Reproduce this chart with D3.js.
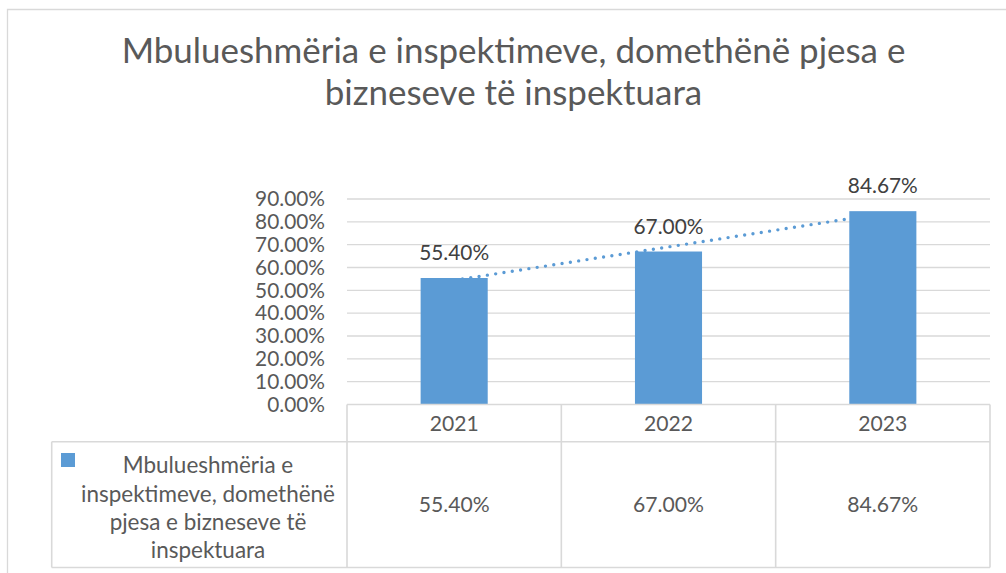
<!DOCTYPE html>
<html>
<head>
<meta charset="utf-8">
<script src="https://cdn.jsdelivr.net/npm/d3@7"></script>
<style>
  html, body { margin: 0; padding: 0; background: #fff; }
  svg { display: block; }
</style>
</head>
<body>
<svg id="chart" width="1006" height="573"></svg>
<script>
// ---- data ----
const titleLines = ["Mbulueshmëria e inspektimeve, domethënë pjesa e", "bizneseve të inspektuara"];
const categories = ["2021", "2022", "2023"];
const values = [0.554, 0.67, 0.8467];
const seriesName = "Mbulueshmëria e inspektimeve, domethënë pjesa e bizneseve të inspektuara";
const legendLines = ["Mbulueshmëria e", "inspektimeve, domethënë", "pjesa e bizneseve të", "inspektuara"];
const yTicks = [0, 0.1, 0.2, 0.3, 0.4, 0.5, 0.6, 0.7, 0.8, 0.9];

// ---- styles ----
const FONT = "Lato, 'Open Sans', sans-serif";
const BAR = "#5B9BD5";
const GRID = "#D9D9D9";
const TXT = "#595959";
const LBL = "#404040";

const svg = d3.select("#chart");
const fmt = d3.format(".2%");

// helper: font size so that sample text has target width
function fitSize(sample, target) {
  const t = svg.append("text").attr("font-family", FONT).attr("font-size", 100).text(sample);
  const w = t.node().getComputedTextLength();
  t.remove();
  return 100 * target / w;
}

const titleSize = fitSize(titleLines[0], 784);
const tickSize = fitSize("90.00%", 70);
const lblSize = fitSize("55.40%", 70);
const tblSize = fitSize("55.40%", 71);
const legSize = fitSize("inspektimeve, domethënë", 254);

// outer chart border
svg.append("path")
  .attr("d", "M7.5,573 V9.5 H1006")
  .attr("fill", "none").attr("stroke", GRID).attr("stroke-width", 1.3);

// title
svg.append("g").selectAll("text").data(titleLines).join("text")
  .attr("x", 513.5)
  .attr("y", (d, i) => 63 + i * 42)
  .attr("text-anchor", "middle")
  .attr("font-family", FONT)
  .attr("font-size", titleSize)
  .attr("fill", TXT)
  .text(d => d);

// scales
const x = d3.scaleBand().domain(categories).range([347, 990]).paddingInner(0.687).paddingOuter(0.3435);
const y = d3.scaleLinear().domain([0, 0.9]).range([404.5, 199]);

// gridlines
svg.append("g").selectAll("line").data(yTicks.slice(1)).join("line")
  .attr("x1", 347).attr("x2", 990)
  .attr("y1", d => y(d)).attr("y2", d => y(d))
  .attr("stroke", GRID).attr("stroke-width", 1.3);

// y axis labels
const yAxis = d3.axisLeft(y).tickValues(yTicks).tickFormat(fmt).tickSize(0).tickPadding(0);
const ya = svg.append("g").attr("transform", "translate(325,0)").call(yAxis);
ya.select(".domain").remove();
ya.selectAll("text").attr("font-family", FONT).attr("font-size", tickSize).attr("fill", TXT);

// trend line (least squares over category index), drawn behind bars
const n = values.length;
const xs = values.map((v, i) => i + 1);
const mx = d3.mean(xs), my = d3.mean(values);
const slope = d3.sum(xs.map((xi, i) => (xi - mx) * (values[i] - my))) / d3.sum(xs.map(xi => (xi - mx) ** 2));
const icpt = my - slope * mx;
const trend = [1, n].map(k => ({ c: categories[k - 1], v: icpt + slope * k }));
svg.append("path")
  .datum(trend)
  .attr("d", d3.line().x(d => x(d.c) + x.bandwidth() / 2).y(d => y(d.v)))
  .attr("fill", "none")
  .attr("stroke", BAR)
  .attr("stroke-width", 3.4)
  .attr("stroke-linecap", "round")
  .attr("stroke-dasharray", "0 8.4");

// bars
svg.append("g").selectAll("rect").data(values).join("rect")
  .attr("x", (d, i) => x(categories[i]))
  .attr("y", d => y(d))
  .attr("width", x.bandwidth())
  .attr("height", d => y(0) - y(d))
  .attr("fill", BAR);

// data labels
svg.append("g").selectAll("text").data(values).join("text")
  .attr("x", (d, i) => x(categories[i]) + x.bandwidth() / 2)
  .attr("y", d => y(d) - 25.5)
  .attr("dy", "0.36em")
  .attr("text-anchor", "middle")
  .attr("font-family", FONT)
  .attr("font-size", lblSize)
  .attr("fill", LBL)
  .text(d => fmt(d));

// data table
const tTop = y(0), tHead = 441.7, tBot = 567.5, tLeft = 51.7;
const step = x.step();
const colEdges = categories.map((c, i) => 347 + i * step).concat([990]);
const tbl = svg.append("g").attr("stroke", GRID).attr("stroke-width", 1.6).attr("fill", "none");
tbl.append("line").attr("x1", 347).attr("x2", 990).attr("y1", tTop).attr("y2", tTop);
tbl.append("line").attr("x1", tLeft).attr("x2", 990).attr("y1", tHead).attr("y2", tHead);
tbl.append("line").attr("x1", tLeft).attr("x2", 990).attr("y1", tBot).attr("y2", tBot);
tbl.append("line").attr("x1", tLeft).attr("x2", tLeft).attr("y1", tHead).attr("y2", tBot);
tbl.selectAll(".v").data(colEdges).join("line")
  .attr("x1", d => d).attr("x2", d => d).attr("y1", tTop).attr("y2", tBot);

// header labels
svg.append("g").selectAll("text").data(categories).join("text")
  .attr("x", d => x(d) + x.bandwidth() / 2)
  .attr("y", 423.8)
  .attr("dy", "0.36em")
  .attr("text-anchor", "middle")
  .attr("font-family", FONT)
  .attr("font-size", tblSize)
  .attr("fill", TXT)
  .text(d => d);

// value cells
svg.append("g").selectAll("text").data(values).join("text")
  .attr("x", (d, i) => x(categories[i]) + x.bandwidth() / 2)
  .attr("y", 504.5)
  .attr("dy", "0.36em")
  .attr("text-anchor", "middle")
  .attr("font-family", FONT)
  .attr("font-size", tblSize)
  .attr("fill", TXT)
  .text(d => fmt(d));

// legend key
svg.append("rect")
  .attr("x", 61).attr("y", 453).attr("width", 14).attr("height", 14)
  .attr("fill", BAR);

svg.append("g").attr("aria-label", seriesName).selectAll("text").data(legendLines).join("text")
  .attr("x", 208)
  .attr("y", (d, i) => 473.3 + i * 28.3)
  .attr("text-anchor", "middle")
  .attr("font-family", FONT)
  .attr("font-size", legSize)
  .attr("fill", TXT)
  .text(d => d);
</script>
</body>
</html>
